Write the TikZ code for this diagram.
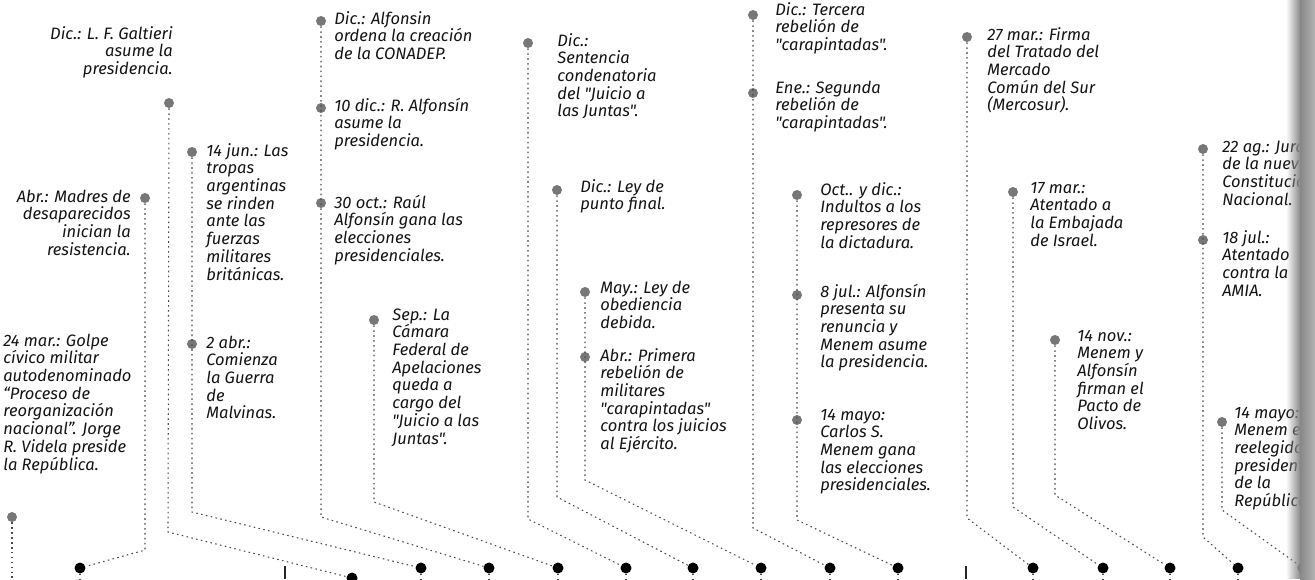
\documentclass[tikz,border=0pt]{standalone}
\usepackage{fontspec}
\setmainfont{Fira Sans}[Ligatures=TeXOff]
\definecolor{txt}{HTML}{141414}
\definecolor{gdotc}{HTML}{777777}
\definecolor{lnc}{HTML}{4A4A4A}
\newcommand\evfont{\fontsize{9.4}{10.1}\selectfont\itshape}
\newcommand\evL[1]{\parbox[t]{4cm}{\evfont\raggedright #1}}
\newcommand\evR[1]{\parbox[t]{4cm}{\evfont\raggedleft #1}}
\tikzset{
  gdot/.style={circle, fill=gdotc, inner sep=0, minimum size=0.2cm},
  bdot/.style={circle, fill=black, inner sep=0, minimum size=0.22cm},
  conn/.style={draw=lnc, line width=0.6pt, dash pattern=on 0.9pt off 1.9pt},
  lblL/.style={anchor=base west, inner sep=0, text=txt},
  lblR/.style={anchor=base east, inner sep=0, text=txt},
  ytick/.style={draw=black!85, line width=0.9pt}
}
\begin{document}
\begin{tikzpicture}[x=0.02cm, y=-0.02cm]
\useasboundingbox (0,0) rectangle (1315,579);
\clip (0,0) rectangle (1315,579);
\fill[white] (0,0) rectangle (1315,579);

% bottom black dots
\node[bdot] (b0) at (80,568) {};
\node[bdot] (b1) at (352,578) {};
\node[bdot] (b2) at (421,568) {};
\node[bdot] (b3) at (489,568) {};
\node[bdot] (b4) at (558,568) {};
\node[bdot] (b5) at (626,568) {};
\node[bdot] (b6) at (693,568) {};
\node[bdot] (b7) at (761,568) {};
\node[bdot] (b8) at (830,568) {};
\node[bdot] (b9) at (898,568) {};
\node[bdot] (b10) at (1033,568) {};
\node[bdot] (b11) at (1103,568) {};
\node[bdot] (b12) at (1170,568) {};
\node[bdot] (b13) at (1238,568) {};
\node[bdot] (b14) at (1303,568) {};
\foreach \b in {b0,b2,b3,b4,b5,b6,b7,b8,b9,b10,b11,b12,b13,b14}
  \draw[conn] (\b) -- ++(0,14);

% year ticks
\draw[ytick] (285,566) -- (285,579);
\draw[ytick] (966,566) -- (966,579);

% corner coordinates
\coordinate (cMad) at (145,550);
\coordinate (cGal) at (168,532);
\coordinate (cMal) at (192,512);
\coordinate (cAlf) at (321,517);
\coordinate (cSep) at (374,502);
\coordinate (cSen) at (528,519);
\coordinate (cLey) at (557,497);
\coordinate (cMay) at (585,480);
\coordinate (cTer) at (753,528);
\coordinate (cOct) at (797,520);
\coordinate (cMer) at (967,518);
\coordinate (cIsr) at (1013,507);
\coordinate (cOli) at (1055,495);
\coordinate (cCon) at (1203,537);
\coordinate (cRee) at (1222,510);
\coordinate (bot) at (0,579);

% gray event dots
\node[gdot] (gGol) at (12,517) {};
\node[gdot] (gMad) at (145,198) {};
\node[gdot] (gGal) at (169,103) {};
\node[gdot] (gJun) at (192,152) {};
\node[gdot] (gAbr) at (192,344) {};
\node[gdot] (gCon) at (321,21) {};
\node[gdot] (gDic) at (321,108) {};
\node[gdot] (gOct) at (321,203) {};
\node[gdot] (gSep) at (374,320) {};
\node[gdot] (gSen) at (528,43) {};
\node[gdot] (gLey) at (557,190) {};
\node[gdot] (gMay) at (585,292) {};
\node[gdot] (gPri) at (585,357) {};
\node[gdot] (gTer) at (753,15) {};
\node[gdot] (gEne) at (753,93) {};
\node[gdot] (gInd) at (797,195) {};
\node[gdot] (gJul) at (797,295) {};
\node[gdot] (gMen) at (797,420) {};
\node[gdot] (gMer) at (967,37) {};
\node[gdot] (gIsr) at (1013,192) {};
\node[gdot] (gOli) at (1055,340) {};
\node[gdot] (gJur) at (1203,149) {};
\node[gdot] (gAmi) at (1203,240) {};
\node[gdot] (gRee) at (1222,422) {};

% connectors
\draw[conn] (gGol) -- (gGol |- bot);
\draw[conn] (gMad) -- (cMad) -- (b0);
\draw[conn] (gGal) -- (cGal) -- (b1);
\draw[conn] (gJun) -- (cMal) -- (b2);
\draw[conn] (gCon) -- (cAlf) -- (b3);
\draw[conn] (gSep) -- (cSep) -- (b4);
\draw[conn] (gSen) -- (cSen) -- (b5);
\draw[conn] (gLey) -- (cLey) -- (b6);
\draw[conn] (gMay) -- (cMay) -- (b7);
\draw[conn] (gTer) -- (cTer) -- (b8);
\draw[conn] (gInd) -- (cOct) -- (b9);
\draw[conn] (gMer) -- (cMer) -- (b10);
\draw[conn] (gIsr) -- (cIsr) -- (b11);
\draw[conn] (gOli) -- (cOli) -- (b12);
\draw[conn] (gJur) -- (cCon) -- (b13);
\draw[conn] (gRee) -- (cRee) -- (b14);

% texts
\node[lblR] (tGal) at (173,39) {\evR{Dic.: L. F. Galtieri\\asume la\\presidencia.}};
\node[lblR] (tMad) at (131,202) {\evR{Abr.: Madres de\\desaparecidos\\inician la\\resistencia.}};
\node[lblL] (tGol) at (3,346) {\evL{24 mar.: Golpe\\cívico militar\\autodenominado\\“Proceso de\\reorganización\\nacional”. Jorge\\R. Videla preside\\la República.}};
\node[lblL] (tJun) at (206,156) {\evL{14 jun.: Las\\tropas\\argentinas\\se rinden\\ante las\\fuerzas\\militares\\británicas.}};
\node[lblL] (tAbr) at (206,348) {\evL{2 abr.:\\Comienza\\la Guerra\\de\\Malvinas.}};
\node[lblL] (tCon) at (334,24) {\evL{Dic.: Alfonsin\\ordena la creación\\de la CONADEP.}};
\node[lblL] (tDic) at (334,111) {\evL{10 dic.: R. Alfonsín\\asume la\\presidencia.}};
\node[lblL] (tOct) at (334,208) {\evL{30 oct.: Raúl\\Alfonsín gana las\\elecciones\\presidenciales.}};
\node[lblL] (tSep) at (392,320) {\evL{Sep.: La\\Cámara\\Federal de\\Apelaciones\\queda a\\cargo del\\"Juicio a las\\Juntas".}};
\node[lblL] (tSen) at (557,46) {\evL{Dic.:\\Sentencia\\condenatoria\\del "Juicio a\\las Juntas".}};
\node[lblL] (tLey) at (580,192) {\evL{Dic.: Ley de\\punto final.}};
\node[lblL] (tMay) at (600,293) {\evL{May.: Ley de\\obediencia\\debida.}};
\node[lblL] (tPri) at (600,361) {\evL{Abr.: Primera\\rebelión de\\militares\\"carapintadas"\\contra los juicios\\al Ejército.}};
\node[lblL] (tTer) at (775,15) {\evL{Dic.: Tercera\\rebelión de\\"carapintadas".}};
\node[lblL] (tEne) at (775,93) {\evL{Ene.: Segunda\\rebelión de\\"carapintadas".}};
\node[lblL] (tInd) at (820,195) {\evL{Oct.. y dic.:\\Indultos a los\\represores de\\la dictadura.}};
\node[lblL] (tJul) at (820,297) {\evL{8 jul.: Alfonsín\\presenta su\\renuncia y\\Menem asume\\la presidencia.}};
\node[lblL] (tMen) at (820,420) {\evL{14 mayo:\\Carlos S.\\Menem gana\\las elecciones\\presidenciales.}};
\node[lblL] (tMer) at (987,40) {\evL{27 mar.: Firma\\del Tratado del\\Mercado\\Común del Sur\\(Mercosur).}};
\node[lblL] (tIsr) at (1030,193) {\evL{17 mar.:\\Atentado a\\la Embajada\\de Israel.}};
\node[lblL] (tOli) at (1077,341) {\evL{14 nov.:\\Menem y\\Alfonsín\\firman el\\Pacto de\\Olivos.}};
\node[lblL] (tJur) at (1222,152) {\evL{22 ag.: Jura\\de la nueva\\Constitución\\Nacional.}};
\node[lblL] (tAmi) at (1222,243) {\evL{18 jul.:\\Atentado\\contra la\\AMIA.}};
\node[lblL] (tRee) at (1234,418) {\evL{14 mayo:\\Menem es\\reelegido\\presidente\\de la\\República.}};

% page gutter shading on the right
\foreach \i [evaluate=\i as \op using \i/14] in {0,...,14}
  \fill[black!45, opacity=\op] (1286+\i,0) rectangle (1287.2+\i,579);
\shade[left color=black!47, right color=black!30] (1300,0) rectangle (1315,579);
\end{tikzpicture}
\end{document}
